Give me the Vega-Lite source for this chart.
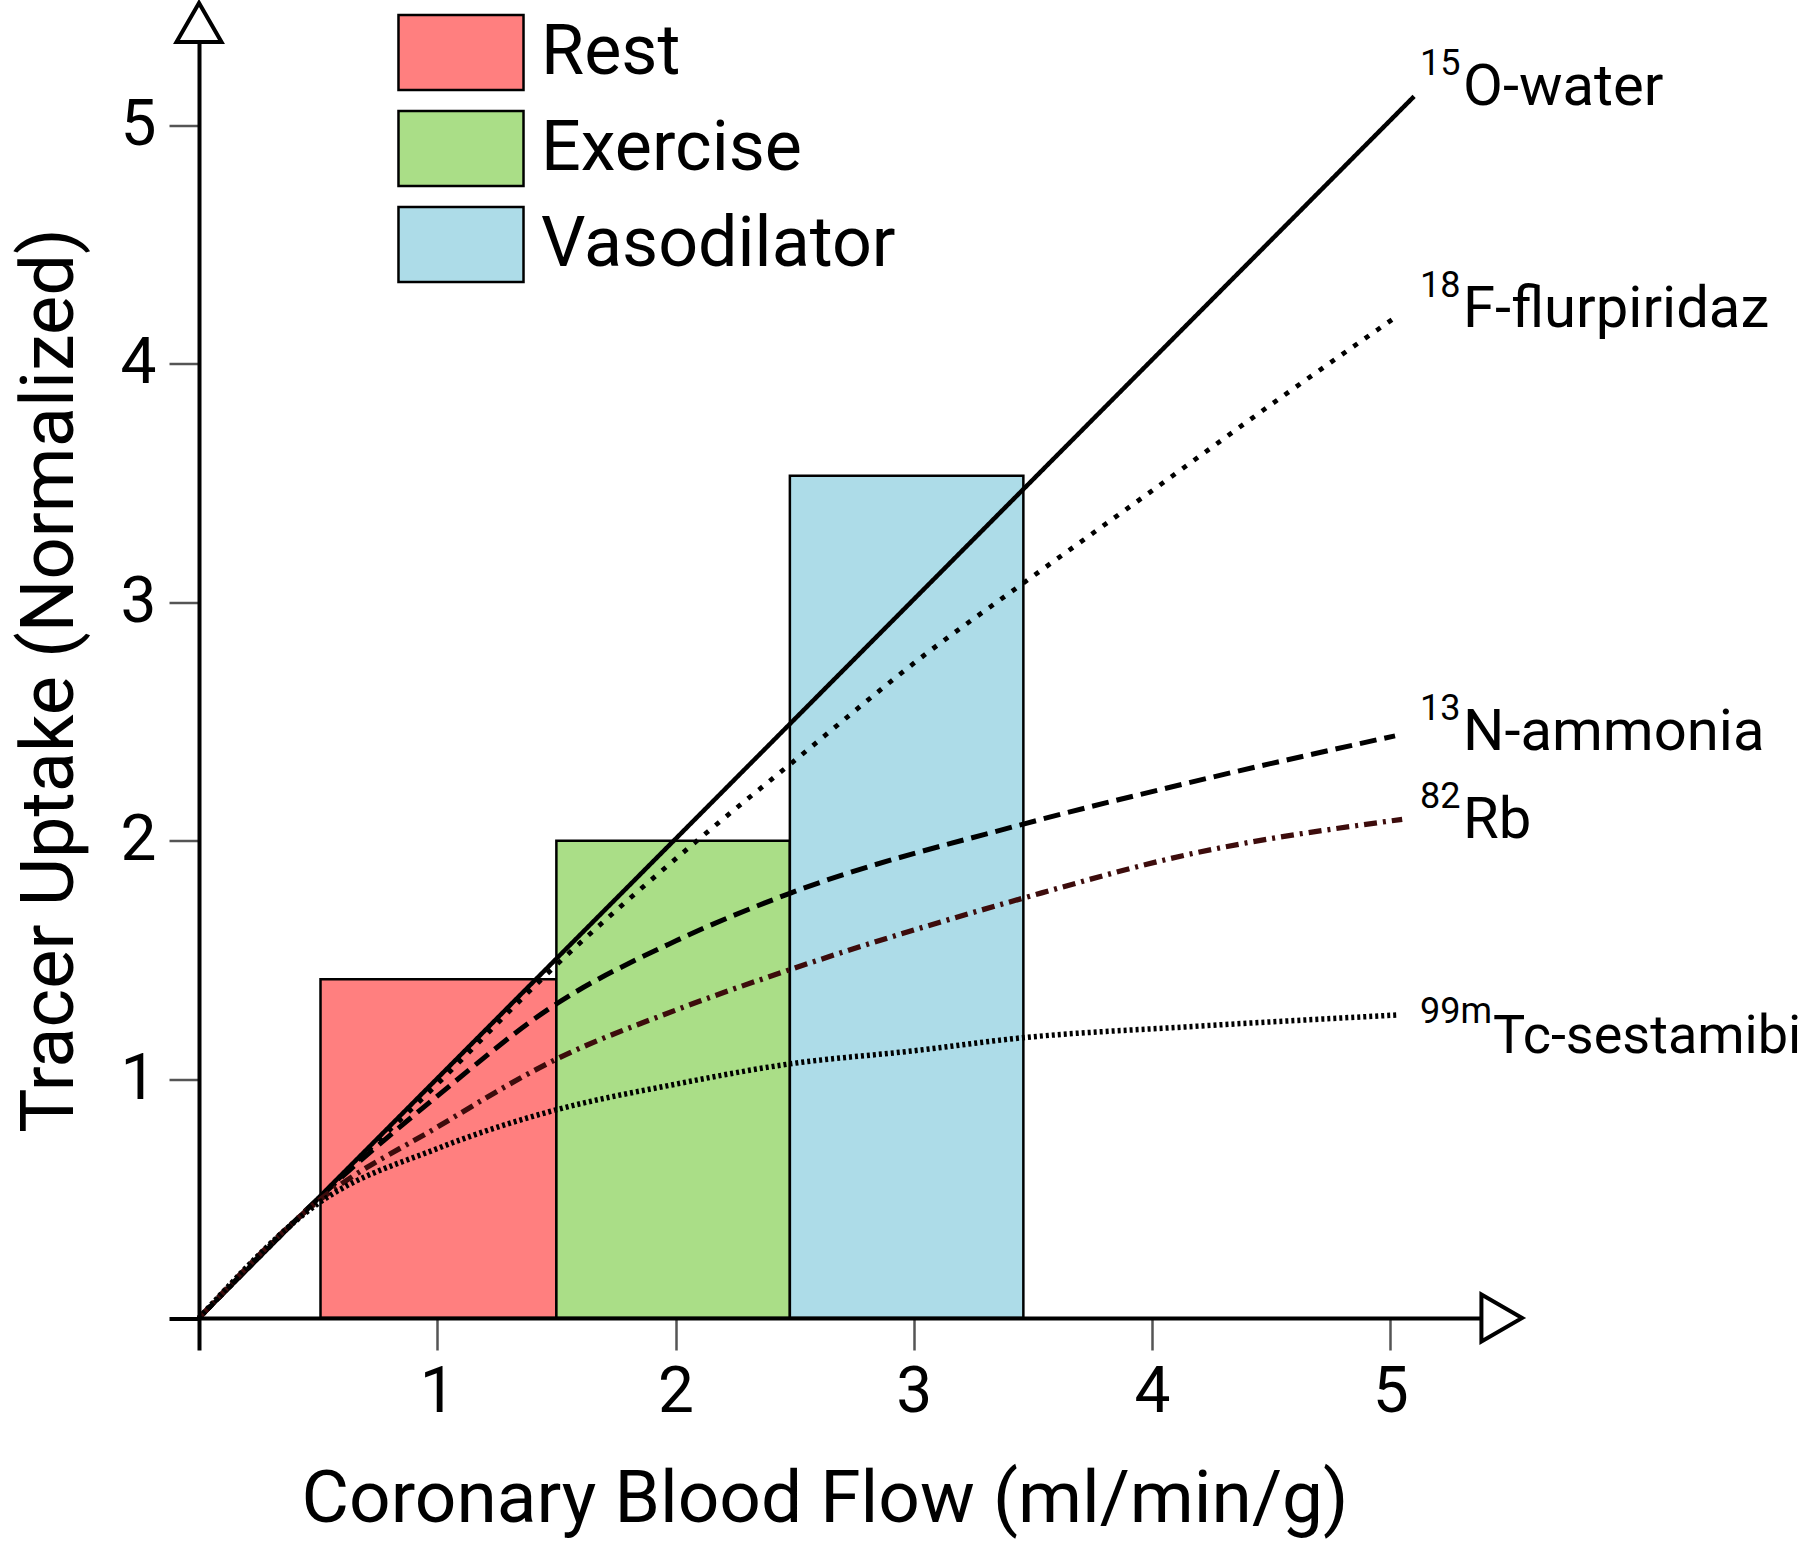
{
  "$schema": "https://vega.github.io/schema/vega-lite/v6.json",
  "width": 1283,
  "height": 1276.5,
  "autosize": {"type": "none"},
  "padding": {"left": 199, "top": 41.5, "right": 318, "bottom": 224},
  "background": "white",
  "config": {
    "view": {"stroke": null},
    "font": "Roboto",
    "text": {"font": "Roboto", "color": "black"},
    "axis": {"labelFont": "Roboto", "titleFont": "Roboto", "labelColor": "black", "titleColor": "black", "titleFontWeight": "normal", "grid": false},
    "legend": {"labelFont": "Roboto"}
  },
  "datasets": {
    "bars": [
      {"condition": "Rest", "x0": 0.51, "x1": 1.5, "uptake": 1.42},
      {"condition": "Exercise", "x0": 1.5, "x1": 2.48, "uptake": 2.0},
      {"condition": "Vasodilator", "x0": 2.48, "x1": 3.46, "uptake": 3.53}
    ],
    "curves": [
      {"tracer": "15O-water", "x": 0, "y": 0},
      {"tracer": "15O-water", "x": 5.1, "y": 5.12},
      {"tracer": "18F-flurpiridaz", "x": 0, "y": 0},
      {"tracer": "18F-flurpiridaz", "x": 0.5, "y": 0.5},
      {"tracer": "18F-flurpiridaz", "x": 1.0, "y": 0.98},
      {"tracer": "18F-flurpiridaz", "x": 1.49, "y": 1.47},
      {"tracer": "18F-flurpiridaz", "x": 2.09, "y": 2.0},
      {"tracer": "18F-flurpiridaz", "x": 2.48, "y": 2.32},
      {"tracer": "18F-flurpiridaz", "x": 3.06, "y": 2.79},
      {"tracer": "18F-flurpiridaz", "x": 3.46, "y": 3.08},
      {"tracer": "18F-flurpiridaz", "x": 3.99, "y": 3.46},
      {"tracer": "18F-flurpiridaz", "x": 4.53, "y": 3.85},
      {"tracer": "18F-flurpiridaz", "x": 5.03, "y": 4.2},
      {"tracer": "13N-ammonia", "x": 0, "y": 0},
      {"tracer": "13N-ammonia", "x": 0.5, "y": 0.5},
      {"tracer": "13N-ammonia", "x": 1.0, "y": 0.93},
      {"tracer": "13N-ammonia", "x": 1.49, "y": 1.31},
      {"tracer": "13N-ammonia", "x": 2.0, "y": 1.58},
      {"tracer": "13N-ammonia", "x": 2.48, "y": 1.78},
      {"tracer": "13N-ammonia", "x": 3.46, "y": 2.07},
      {"tracer": "13N-ammonia", "x": 4.14, "y": 2.24},
      {"tracer": "13N-ammonia", "x": 5.02, "y": 2.44},
      {"tracer": "82Rb", "x": 0, "y": 0},
      {"tracer": "82Rb", "x": 0.5, "y": 0.49},
      {"tracer": "82Rb", "x": 1.0, "y": 0.8},
      {"tracer": "82Rb", "x": 1.49, "y": 1.08},
      {"tracer": "82Rb", "x": 2.0, "y": 1.29},
      {"tracer": "82Rb", "x": 2.48, "y": 1.46},
      {"tracer": "82Rb", "x": 3.46, "y": 1.76},
      {"tracer": "82Rb", "x": 4.14, "y": 1.94},
      {"tracer": "82Rb", "x": 5.05, "y": 2.09},
      {"tracer": "99mTc-sestamibi", "x": 0, "y": 0},
      {"tracer": "99mTc-sestamibi", "x": 0.5, "y": 0.48},
      {"tracer": "99mTc-sestamibi", "x": 1.0, "y": 0.71},
      {"tracer": "99mTc-sestamibi", "x": 1.49, "y": 0.87},
      {"tracer": "99mTc-sestamibi", "x": 2.0, "y": 0.98},
      {"tracer": "99mTc-sestamibi", "x": 2.48, "y": 1.065},
      {"tracer": "99mTc-sestamibi", "x": 3.0, "y": 1.12},
      {"tracer": "99mTc-sestamibi", "x": 3.46, "y": 1.175},
      {"tracer": "99mTc-sestamibi", "x": 4.14, "y": 1.22},
      {"tracer": "99mTc-sestamibi", "x": 5.03, "y": 1.27}
    ],
    "labels": [
      {"sup": "15", "name": "O-water", "x": 5.125, "y": 5.084},
      {"sup": "18", "name": "F-flurpiridaz", "x": 5.125, "y": 4.154},
      {"sup": "13", "name": "N-ammonia", "x": 5.125, "y": 2.381},
      {"sup": "82", "name": "Rb", "x": 5.125, "y": 2.012},
      {"sup": "99m", "name": "Tc-sestamibi", "x": 5.125, "y": 1.111}
    ],
    "xarrow": [{"x": 5.468, "y": 0}],
    "yarrow": [{"x": 0, "y": 5.43}]
  },
  "layer": [
    {
      "data": {"name": "bars"},
      "mark": {"type": "rect", "stroke": "black", "strokeWidth": 2.5},
      "encoding": {
        "x": {
          "field": "x0", "type": "quantitative",
          "scale": {"domain": [0, 5.385], "nice": false, "zero": false},
          "axis": {
            "title": "Coronary Blood Flow (ml/min/g)",
            "values": [0, 1, 2, 3, 4, 5],
            "format": "d",
            "labelExpr": "datum.value == 0 ? '' : datum.label",
            "tickSize": 32,
            "tickWidth": {"condition": {"test": "datum.value == 0", "value": 4}, "value": 2.5},
            "tickColor": {"condition": {"test": "datum.value == 0", "value": "black"}, "value": "#555555"},
            "domainColor": "black", "domainWidth": 4,
            "labelFontSize": 64, "labelPadding": 10, "labelFlush": false, "labelOverlap": false,
            "titleFontSize": 73, "titleX": 625.5, "titleY": 203, "titleBaseline": "alphabetic", "titleAlign": "center",
            "zindex": 1
          }
        },
        "x2": {"field": "x1"},
        "y": {
          "field": "uptake", "type": "quantitative",
          "scale": {"domain": [0, 5.35], "nice": false, "zero": false},
          "axis": {
            "title": "Tracer Uptake (Normalized)",
            "values": [0, 1, 2, 3, 4, 5],
            "format": "d",
            "labelExpr": "datum.value == 0 ? '' : datum.label",
            "tickSize": 30,
            "tickWidth": {"condition": {"test": "datum.value == 0", "value": 4}, "value": 2.5},
            "tickColor": {"condition": {"test": "datum.value == 0", "value": "black"}, "value": "#555555"},
            "domainColor": "black", "domainWidth": 4,
            "labelFontSize": 64, "labelPadding": 13, "labelFlush": false, "labelOverlap": false,
            "titleFontSize": 74, "titleX": -127, "titleY": 638.5, "titleBaseline": "alphabetic", "titleAlign": "center", "titleAngle": 270,
            "zindex": 1
          }
        },
        "y2": {"datum": 0},
        "fill": {
          "field": "condition", "type": "nominal",
          "scale": {"domain": ["Rest", "Exercise", "Vasodilator"], "range": ["#ff7f7f", "#aade87", "#addce8"]},
          "legend": {
            "title": null, "orient": "none", "legendX": 223, "legendY": -28,
            "symbolType": "M-1.667,-1H1.667V1H-1.667Z", "symbolSize": 5625,
            "symbolStrokeColor": "black", "symbolStrokeWidth": 2.5, "symbolOpacity": 1,
            "labelFontSize": 70, "labelColor": "black", "labelOffset": 41, "rowPadding": 10, "padding": 0,
            "labelLimit": 1000
          }
        }
      }
    },
    {
      "data": {"name": "curves"},
      "mark": {"type": "line", "interpolate": "monotone"},
      "encoding": {
        "x": {"field": "x", "type": "quantitative"},
        "y": {"field": "y", "type": "quantitative"},
        "stroke": {
          "field": "tracer", "type": "nominal",
          "scale": {"domain": ["15O-water", "18F-flurpiridaz", "13N-ammonia", "82Rb", "99mTc-sestamibi"], "range": ["black", "black", "black", "#3d0c0c", "black"]},
          "legend": null
        },
        "strokeWidth": {
          "field": "tracer", "type": "nominal",
          "scale": {"domain": ["15O-water", "18F-flurpiridaz", "13N-ammonia", "82Rb", "99mTc-sestamibi"], "range": [4.5, 5.5, 5, 5, 4]},
          "legend": null
        },
        "strokeDash": {
          "field": "tracer", "type": "nominal",
          "scale": {"domain": ["15O-water", "18F-flurpiridaz", "13N-ammonia", "82Rb", "99mTc-sestamibi"], "range": [[1, 0], [5, 9], [17, 8], [13, 6, 3, 6], [3, 3]]},
          "legend": null
        }
      }
    },
    {
      "data": {"name": "labels"},
      "mark": {"type": "text", "align": "left", "baseline": "alphabetic", "fontSize": 36, "dy": -30},
      "encoding": {
        "x": {"field": "x", "type": "quantitative"},
        "y": {"field": "y", "type": "quantitative"},
        "text": {"field": "sup"}
      }
    },
    {
      "data": {"name": "labels"},
      "mark": {"type": "text", "align": "left", "baseline": "alphabetic", "fontSize": {"expr": "datum.sup == '99m' ? 54 : 58"}, "dx": {"expr": "datum.sup == '99m' ? 73 : 43"}},
      "encoding": {
        "x": {"field": "x", "type": "quantitative"},
        "y": {"field": "y", "type": "quantitative"},
        "text": {"field": "name"}
      }
    },
    {
      "data": {"name": "xarrow"},
      "mark": {"type": "point", "shape": "triangle-right", "size": 2209, "filled": true, "fill": "white", "stroke": "black", "strokeWidth": 4, "opacity": 1},
      "encoding": {
        "x": {"field": "x", "type": "quantitative"},
        "y": {"field": "y", "type": "quantitative"}
      }
    },
    {
      "data": {"name": "yarrow"},
      "mark": {"type": "point", "shape": "triangle-up", "size": 2025, "filled": true, "fill": "white", "stroke": "black", "strokeWidth": 4, "opacity": 1},
      "encoding": {
        "x": {"field": "x", "type": "quantitative"},
        "y": {"field": "y", "type": "quantitative"}
      }
    }
  ]
}
